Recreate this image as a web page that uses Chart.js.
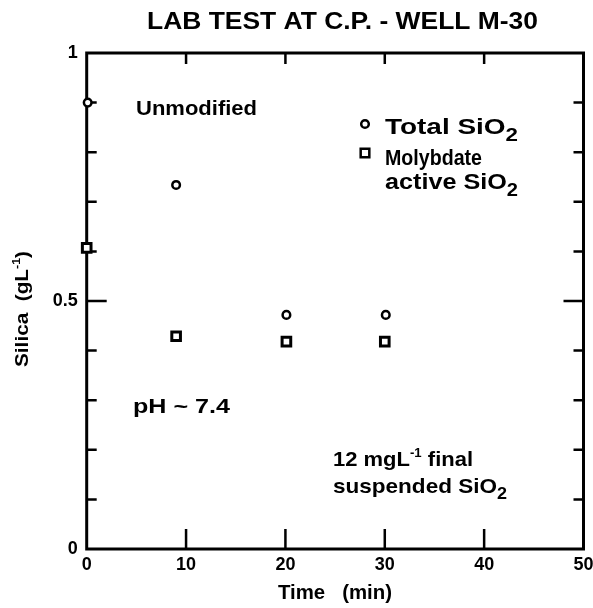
<!DOCTYPE html>
<html>
<head>
<meta charset="utf-8">
<script src="https://cdn.jsdelivr.net/npm/chart.js@4/dist/chart.umd.min.js"></script>
<style>
  html, body { margin: 0; padding: 0; background: #ffffff; }
  #c { display: block; }
</style>
</head>
<body>
<canvas id="c" width="593" height="608"></canvas>
<script>
// ---- data ----
const totalTime   = [0.1, 9.0, 20.1, 30.1];
const totalSilica = [0.90, 0.734, 0.472, 0.472];
const molyTime    = [0.0, 9.0, 20.1, 30.0];
const molySilica  = [0.607, 0.429, 0.418, 0.418];

const xTickValues   = [0, 10, 20, 30, 40, 50];
const xInnerTicks   = [10, 20, 30, 40];
const yInnerTicks   = [0.1, 0.2, 0.3, 0.4, 0.5, 0.6, 0.7, 0.8, 0.9];
const yLabelValues  = [0, 0.5, 1];
const yLabelText    = ['0', '0.5', '1'];

const FAMILY = '"Liberation Sans", Arial, sans-serif';
const INK = '#000000';

// draw a sequence of text runs (with sub/superscripts), scaled to a target width
function drawRuns(ctx, runs, x, y, size, width, align) {
  ctx.save();
  let natural = 0;
  const ms = runs.map(r => {
    const s = size * (r.scale || 1);
    ctx.font = 'bold ' + s + 'px ' + FAMILY;
    const w = ctx.measureText(r.t).width;
    natural += w;
    return { s, w };
  });
  const sx = width ? width / natural : 1;
  const total = natural * sx;
  let start = x;
  if (align === 'center') start = x - total / 2;
  ctx.translate(start, y);
  ctx.scale(sx, 1);
  ctx.fillStyle = INK;
  ctx.textBaseline = 'alphabetic';
  ctx.textAlign = 'left';
  let cx = 0;
  runs.forEach((r, i) => {
    ctx.font = 'bold ' + ms[i].s + 'px ' + FAMILY;
    ctx.fillText(r.t, cx, (r.dy || 0) * size);
    cx += ms[i].w;
  });
  ctx.restore();
}

const framePlugin = {
  id: 'frame',
  beforeDatasetsDraw(chart) {
    const { ctx, chartArea: a, scales } = chart;
    ctx.save();
    ctx.strokeStyle = INK;
    ctx.lineWidth = 3;
    ctx.lineCap = 'square';
    ctx.strokeRect(a.left, a.top, a.right - a.left, a.bottom - a.top);
    ctx.lineWidth = 2.5;
    ctx.lineCap = 'butt';
    ctx.beginPath();
    xInnerTicks.forEach(v => {
      const px = scales.x.getPixelForValue(v);
      ctx.moveTo(px, a.bottom); ctx.lineTo(px, a.bottom - 20);
      ctx.moveTo(px, a.top); ctx.lineTo(px, a.top + 11);
    });
    yInnerTicks.forEach(v => {
      const py = scales.y.getPixelForValue(v);
      const len = Math.abs(v - 0.5) < 1e-9 ? 20 : 10;
      ctx.moveTo(a.left, py); ctx.lineTo(a.left + len, py);
      ctx.moveTo(a.right, py); ctx.lineTo(a.right - len, py);
    });
    ctx.stroke();
    ctx.restore();
  },
  afterDraw(chart) {
    const { ctx } = chart;
    // title
    drawRuns(ctx, [{ t: 'LAB TEST AT C.P. - WELL M-30' }], 147, 29, 23, 391, 'left');
    // annotations
    drawRuns(ctx, [{ t: 'Unmodified' }], 136, 115, 21, 121, 'left');
    drawRuns(ctx, [{ t: 'pH ~ 7.4' }], 133, 413, 20, 97, 'left');
    drawRuns(ctx, [{ t: '12 mgL' }, { t: '-1', scale: 0.6, dy: -0.42 }, { t: ' final' }], 333, 466, 21, 140, 'left');
    drawRuns(ctx, [{ t: 'suspended SiO' }, { t: '2', scale: 0.8, dy: 0.3 }], 333, 493, 21, 174, 'left');
    // legend
    Chart.helpers.drawPoint(ctx, { pointStyle: 'circle', radius: 3.8, borderWidth: 2.5 }, 365, 124);
    Chart.helpers.drawPoint(ctx, { pointStyle: 'rect', radius: 6.1, borderWidth: 3 }, 365, 153);
    drawRuns(ctx, [{ t: 'Total SiO' }, { t: '2', scale: 0.8, dy: 0.3 }], 385, 134, 22, 133, 'left');
    drawRuns(ctx, [{ t: 'Molybdate' }], 385, 165, 22, 97, 'left');
    drawRuns(ctx, [{ t: 'active SiO' }, { t: '2', scale: 0.8, dy: 0.3 }], 385, 189, 22, 133, 'left');
    // axis titles
    drawRuns(ctx, [{ t: 'Time   (min)' }], 335, 599, 20, 114, 'center');
    ctx.save();
    ctx.translate(28, 309);
    ctx.rotate(-Math.PI / 2);
    drawRuns(ctx, [{ t: 'Silica  (gL' }, { t: '-1', scale: 0.6, dy: -0.42 }, { t: ')' }], 0, 0, 19, 116, 'center');
    ctx.restore();
  }
};

const pointStyleCommon = {
  borderColor: INK,
  backgroundColor: '#ffffff',
  showLine: false,
  clip: false
};

new Chart(document.getElementById('c'), {
  type: 'scatter',
  data: {
    datasets: [
      Object.assign({
        label: 'Total SiO2',
        data: totalTime.map((t, i) => ({ x: t, y: totalSilica[i] })),
        pointStyle: 'circle', pointRadius: 3.8, borderWidth: 2.5
      }, pointStyleCommon),
      Object.assign({
        label: 'Molybdate active SiO2',
        data: molyTime.map((t, i) => ({ x: t, y: molySilica[i] })),
        pointStyle: 'rect', pointRadius: 6.1, borderWidth: 3
      }, pointStyleCommon)
    ]
  },
  options: {
    responsive: false,
    animation: false,
    events: [],
    layout: { padding: { top: 53, right: 9.5, bottom: 0, left: 0 } },
    plugins: { legend: { display: false }, tooltip: { enabled: false }, title: { display: false } },
    scales: {
      x: {
        type: 'linear', min: 0, max: 50,
        afterBuildTicks(s) { s.ticks = xTickValues.map(v => ({ value: v })); },
        afterFit(s) { s.height = 59; s.paddingLeft = 0; s.paddingRight = 0; },
        grid: { display: false, drawTicks: false },
        border: { display: false },
        ticks: { color: INK, font: { family: FAMILY, size: 18, weight: 'bold' }, padding: 5, maxRotation: 0, autoSkip: false }
      },
      y: {
        type: 'linear', min: 0, max: 1,
        afterBuildTicks(s) { s.ticks = yLabelValues.map(v => ({ value: v })); },
        afterFit(s) { s.width = 86.7; s.paddingTop = 0; s.paddingBottom = 0; },
        grid: { display: false, drawTicks: false },
        border: { display: false },
        ticks: {
          color: INK, font: { family: FAMILY, size: 18, weight: 'bold' }, padding: 9, autoSkip: false,
          callback(v) {
            const i = yLabelValues.findIndex(u => Math.abs(u - v) < 1e-9);
            return i >= 0 ? yLabelText[i] : '';
          }
        }
      }
    }
  },
  plugins: [framePlugin]
});
</script>
</body>
</html>
